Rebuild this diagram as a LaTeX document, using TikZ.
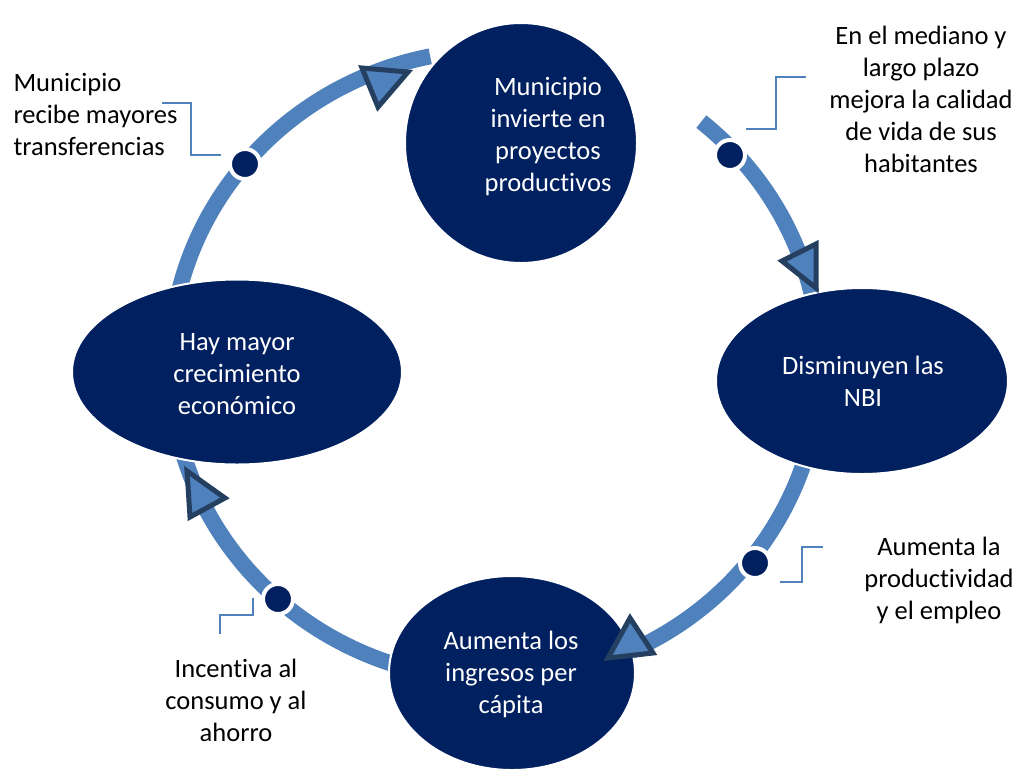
\documentclass[tikz,border=0pt]{standalone}
\usepackage{fontspec}
\setmainfont{Carlito}[Ligatures=NoCommon,RawFeature={-calt;-dlig}]
\usetikzlibrary{shapes.geometric}
\definecolor{navy}{HTML}{002060}
\definecolor{ringblue}{HTML}{4F81BD}
\definecolor{tridark}{HTML}{243F60}
\begin{document}
\begin{tikzpicture}[x=1pt,y=-1pt,
  bubble/.style={ellipse, fill=navy, draw=white, line width=2pt, inner sep=0pt},
  btext/.style={text=white, align=center, font=\fontsize{26.5}{32}\selectfont},
  ctext/.style={text=black, align=center, font=\fontsize{26.5}{32}\selectfont},
  ring/.style={draw=ringblue, line width=16pt},
  tri/.style={fill=ringblue, draw=tridark, line width=5pt, line join=miter},
  dot/.style={circle, fill=navy, draw=white, line width=4pt, minimum size=30pt, inner sep=0pt},
  leader/.style={draw=ringblue, line width=2pt}]
\useasboundingbox (0,0) rectangle (1019,769);
% ring centre and dot positions
\coordinate (ctr) at (495,365);
\coordinate (pA) at (245,164);
\coordinate (pB) at (730,155);
\coordinate (pC) at (755,563);
\coordinate (pD) at (278,599);
% ring segments (arcs of one ellipse)
\draw[ring] (ctr) ++(192:325 and 315) arc[start angle=192, end angle=258.5, x radius=325, y radius=315];
\draw[ring] (ctr) ++(309.4:325 and 315) arc[start angle=309.4, end angle=350, x radius=325, y radius=315];
\draw[ring] (ctr) ++(12:325 and 315) arc[start angle=12, end angle=66, x radius=325, y radius=315];
\draw[ring] (ctr) ++(106:325 and 315) arc[start angle=106, end angle=166, x radius=325, y radius=315];
% bubbles
\node[bubble, minimum width=232pt, minimum height=240pt] (top) at (521,143) {};
\node[bubble, minimum width=292pt, minimum height=186pt] (right) at (862,381) {};
\node[bubble, minimum width=330pt, minimum height=185pt] (left) at (237,372) {};
\node[bubble, minimum width=246pt, minimum height=194pt] (bottom) at (512,673) {};
% arrow heads
\draw[tri] (362,68) -- (408,72) -- (378,107) -- cycle;
\draw[tri] (782,261) -- (816,244) -- (816,288) -- cycle;
\draw[tri] (630,618) -- (653,653) -- (608,658) -- cycle;
\draw[tri] (187,471) -- (225,498) -- (190,517) -- cycle;
% dots
\node[dot] (dA) at (pA) {};
\node[dot] (dB) at (pB) {};
\node[dot] (dC) at (pC) {};
\node[dot] (dD) at (pD) {};
% leaders
\draw[leader] (162,103) -- (191,103) -- (191,155) -- (221,155);
\draw[leader] (806,77) -- (776,77) -- (776,129) -- (746,129);
\draw[leader] (823,547) -- (802,547) -- (802,582) -- (780,582);
\draw[leader] (253,598) -- (253,615) -- (220,615) -- (220,634);
% texts
\node[btext] (ttop) at (548,137) {Municipio\\invierte en\\proyectos\\productivos};
\node[btext] (tright) at (863,381) {Disminuyen las\\NBI};
\node[btext] (tleft) at (237,374) {Hay mayor\\crecimiento\\económico};
\node[btext] (tbottom) at (511,674) {Aumenta los\\ingresos per\\cápita};
\node[ctext, align=left, anchor=west] (ctl) at (10,114) {Municipio\\recibe mayores\\transferencias};
\node[ctext] (ctr2) at (921,99) {En el mediano y\\largo plazo\\mejora la calidad\\de vida de sus\\habitantes};
\node[ctext] (cbr) at (939,580) {Aumenta la\\productividad\\y el empleo};
\node[ctext] (cbl) at (236,700) {Incentiva al\\consumo y al\\ahorro};
\end{tikzpicture}
\end{document}
